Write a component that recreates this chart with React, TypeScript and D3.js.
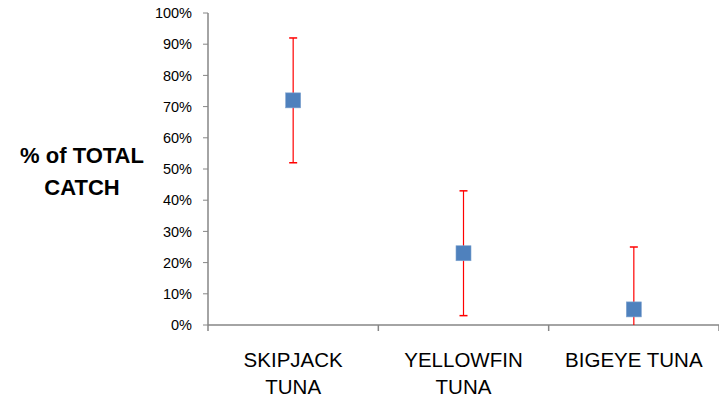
import * as d3 from 'd3';

const categories = ['SKIPJACK TUNA', 'YELLOWFIN TUNA', 'BIGEYE TUNA'];
const labelLines = [['SKIPJACK', 'TUNA'], ['YELLOWFIN', 'TUNA'], ['BIGEYE TUNA']];
const values = [72, 23, 5];
const upper = [92, 43, 25];
const lower = [52, 3, 0];
const yTicks = [0, 10, 20, 30, 40, 50, 60, 70, 80, 90, 100];

const W = 719;
const H = 406;
const plotLeft = 208;
const plotRight = 719;
const plotTop = 13;
const plotBottom = 325;

export default function App() {
  const x = d3.scaleBand<string>().domain(categories).range([plotLeft, plotRight]);
  const y = d3.scaleLinear().domain([0, 100]).range([plotBottom, plotTop]);
  const axisColor = '#868686';
  const font = 'Liberation Sans, Arial, sans-serif';
  const bounds = [plotLeft, ...categories.map(c => (x(c) ?? 0) + x.bandwidth())];

  return (
    <svg width={W} height={H} style={{ position: 'fixed', left: 0, top: 0, background: '#fff' }}>
      {/* y axis */}
      <line x1={plotLeft} x2={plotLeft} y1={plotTop} y2={plotBottom} stroke={axisColor} strokeWidth={1.5} />
      {yTicks.map(t => (
        <g key={t}>
          <line x1={plotLeft - 5} x2={plotLeft} y1={y(t)} y2={y(t)} stroke={axisColor} strokeWidth={1} />
          <text x={plotLeft - 16} y={y(t)} dy="0.36em" textAnchor="end" fontFamily={font} fontSize={14.5} fill="#000">
            {t}%
          </text>
        </g>
      ))}
      {/* x axis */}
      <line x1={plotLeft} x2={plotRight} y1={plotBottom} y2={plotBottom} stroke={axisColor} strokeWidth={1.5} />
      {bounds.map((b, i) => (
        <line key={i} x1={b} x2={b} y1={plotBottom} y2={plotBottom + 6} stroke={axisColor} strokeWidth={1.5} />
      ))}
      {categories.map((c, i) => {
        const cx = (x(c) ?? 0) + x.bandwidth() / 2;
        return (
          <text key={c} x={cx} y={367} textAnchor="middle" fontFamily={font} fontSize={20.5} fill="#000">
            {labelLines[i].map((l, j) => (
              <tspan key={j} x={cx} dy={j === 0 ? 0 : 27}>{l}</tspan>
            ))}
          </text>
        );
      })}
      {/* error bars and markers */}
      {categories.map((c, i) => {
        const cx = (x(c) ?? 0) + x.bandwidth() / 2;
        return (
          <g key={c}>
            <line x1={cx} x2={cx} y1={y(upper[i])} y2={y(lower[i])} stroke="#ff0000" strokeWidth={1.2} />
            <line x1={cx - 4} x2={cx + 4} y1={y(upper[i])} y2={y(upper[i])} stroke="#ff0000" strokeWidth={1.5} />
            {lower[i] > 0 && (
              <line x1={cx - 4} x2={cx + 4} y1={y(lower[i])} y2={y(lower[i])} stroke="#ff0000" strokeWidth={1.5} />
            )}
            <rect x={cx - 7.5} y={y(values[i]) - 7.5} width={15} height={15} fill="#4f81bd" stroke="#7ea3d0" strokeWidth={0.6} />
          </g>
        );
      })}
      {/* y title */}
      <text x={82} y={163} textAnchor="middle" fontFamily={font} fontSize={22} fontWeight="bold" fill="#000">
        <tspan x={82} dy={0}>% of TOTAL</tspan>
        <tspan x={82} dy={32}>CATCH</tspan>
      </text>
    </svg>
  );
}
